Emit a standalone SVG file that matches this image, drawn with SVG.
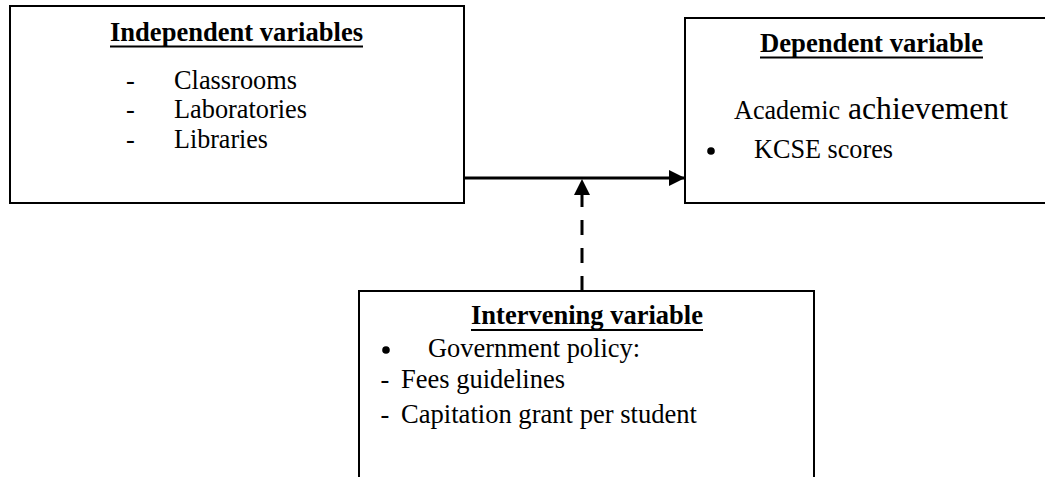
<svg xmlns="http://www.w3.org/2000/svg" width="1045" height="477" viewBox="0 0 1045 477">
  <defs>
    <style>
      .box { fill: #ffffff; stroke: #000000; stroke-width: 2; }
      .t { font-family: 'Liberation Serif', 'Times New Roman', serif; font-size: 26.4px; fill: #000000; }
      .b { font-weight: bold; }
      .ul { stroke: #000000; stroke-width: 2; }
      .conn { stroke: #000000; stroke-width: 3; fill: none; }
    </style>
    <marker id="arrow" markerUnits="userSpaceOnUse" markerWidth="16" markerHeight="16" refX="16" refY="8" orient="auto">
      <path d="M0,0 L16,8 L0,16 Z" fill="#000000"/>
    </marker>
  </defs>
  <rect width="1045" height="477" fill="#ffffff"/>

  <g id="independent">
    <rect class="box" x="10" y="6" width="454" height="197"/>
    <text class="t b" x="110" y="41" textLength="253" lengthAdjust="spacingAndGlyphs">Independent variables</text>
    <line class="ul" x1="110" y1="46.5" x2="363" y2="46.5"/>
    <text class="t" x="126" y="88.5">-</text>
    <text class="t" x="174" y="88.5" textLength="123" lengthAdjust="spacingAndGlyphs">Classrooms</text>
    <text class="t" x="126" y="118">-</text>
    <text class="t" x="174" y="118" textLength="133" lengthAdjust="spacingAndGlyphs">Laboratories</text>
    <text class="t" x="126" y="148">-</text>
    <text class="t" x="174" y="148" textLength="94" lengthAdjust="spacingAndGlyphs">Libraries</text>
  </g>

  <g id="dependent">
    <rect class="box" x="685" y="18" width="380" height="185"/>
    <text class="t b" x="760" y="51.5" textLength="223" lengthAdjust="spacingAndGlyphs">Dependent variable</text>
    <line class="ul" x1="760" y1="57.5" x2="983" y2="57.5"/>
    <text class="t" x="734" y="119" textLength="106" lengthAdjust="spacingAndGlyphs">Academic</text>
    <text class="t" x="848" y="119" style="font-size:31.6px" textLength="160" lengthAdjust="spacingAndGlyphs">achievement</text>
    <circle cx="711" cy="151" r="3.8" fill="#000000"/>
    <text class="t" x="754" y="158" textLength="139" lengthAdjust="spacingAndGlyphs">KCSE scores</text>
  </g>

  <g id="intervening">
    <rect class="box" x="359" y="291" width="455" height="200"/>
    <text class="t b" x="471" y="324" textLength="232" lengthAdjust="spacingAndGlyphs">Intervening variable</text>
    <line class="ul" x1="471" y1="330" x2="703" y2="330"/>
    <circle cx="386" cy="350" r="3.8" fill="#000000"/>
    <text class="t" x="428" y="357" textLength="212" lengthAdjust="spacingAndGlyphs">Government policy:</text>
    <text class="t" x="380.5" y="388">-</text>
    <text class="t" x="401" y="388" textLength="164" lengthAdjust="spacingAndGlyphs">Fees guidelines</text>
    <text class="t" x="380.5" y="423">-</text>
    <text class="t" x="401" y="423" textLength="296" lengthAdjust="spacingAndGlyphs">Capitation grant per student</text>
  </g>

  <g id="connectors">
    <line class="conn" x1="464" y1="178" x2="685" y2="178" marker-end="url(#arrow)"/>
    <line class="conn" x1="582" y1="291" x2="582" y2="179" stroke-width="3.3" stroke-dasharray="15 13" marker-end="url(#arrow)"/>
  </g>
</svg>
